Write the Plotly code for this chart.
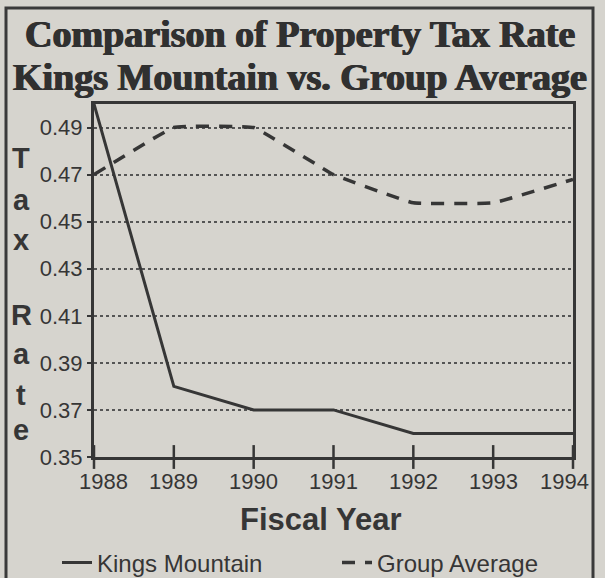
import plotly.graph_objects as go

years = [1988, 1989, 1990, 1991, 1992, 1993, 1994]
year_labels = ["1988", "1989", "1990", "1991", "1992", "1993", "1994"]
kings_mountain = [0.50, 0.38, 0.37, 0.37, 0.36, 0.36, 0.36]
group_average = [0.47, 0.49, 0.49, 0.47, 0.458, 0.458, 0.468]
y_ticks = [0.35, 0.37, 0.39, 0.41, 0.43, 0.45, 0.47, 0.49]
title_lines = ["Comparison of Property Tax Rate", "Kings Mountain vs. Group Average"]
y_title_letters = ["T", "a", "x", "R", "a", "t", "e"]
y_title_pos = [158, 200, 240, 315, 354, 395, 430]

BG = "#d6d4ce"
INK = "#363636"

W, H = 605, 578
L, R, T, B = 94, 32, 104, 121
PW, PH = W - L - R, H - T - B

def px_x(x):
    return (x - L) / PW

def px_y(y):
    return (H - B - y) / PH

fig = go.Figure()
fig.add_trace(go.Scatter(x=years, y=kings_mountain, mode="lines", name="Kings Mountain",
                         line=dict(color=INK, width=3), cliponaxis=False))
fig.add_trace(go.Scatter(x=years, y=group_average, mode="lines", name="Group Average",
                         line=dict(color=INK, width=3.5, dash="13px,10px", shape="spline", smoothing=0.25),
                         cliponaxis=False))
# crossing x-axis tick marks
fig.add_trace(go.Scatter(x=years, y=[0.35] * len(years), mode="markers", showlegend=False,
                         marker=dict(symbol="line-ns", size=17, line=dict(color=INK, width=2.5)),
                         cliponaxis=False, hoverinfo="skip"))

annotations = []
for i, line in enumerate(title_lines):
    annotations.append(dict(text=line, x=px_x(300), y=px_y([34, 77][i]), xref="paper", yref="paper",
                            xanchor="center", yanchor="middle", showarrow=False,
                            font=dict(family="Liberation Serif", size=38, color="#303030", weight="bold",
                                      shadow="0.7px 0 0 #303030, -0.7px 0 0 #303030")))
for ch, yy in zip(y_title_letters, y_title_pos):
    annotations.append(dict(text=ch, x=px_x(21), y=px_y(yy), xref="paper", yref="paper",
                            xanchor="center", yanchor="middle", showarrow=False,
                            font=dict(family="Liberation Sans", size=29, color=INK, weight="bold")))
annotations.append(dict(text="Fiscal Year", x=px_x(320), y=px_y(519), xref="paper", yref="paper",
                        xanchor="center", yanchor="middle", showarrow=False,
                        font=dict(family="Liberation Sans", size=31, color=INK, weight="bold")))
# x tick labels (end labels nudged inward as in the original)
for i, (yr, lab) in enumerate(zip(years, year_labels)):
    shift = 9 if i == 0 else (-9 if i == len(years) - 1 else 0)
    annotations.append(dict(text=lab, x=yr, xref="x", y=0, yref="paper", xanchor="center",
                            yanchor="top", yshift=-10, xshift=shift, showarrow=False,
                            font=dict(family="Liberation Sans", size=22, color=INK)))

fig.update_layout(
    width=W, height=H,
    margin=dict(l=L, r=R, t=T, b=B, autoexpand=False),
    paper_bgcolor=BG, plot_bgcolor=BG,
    font=dict(family="Liberation Sans", color=INK),
    annotations=annotations,
    showlegend=True,
    legend=dict(orientation="h", x=px_x(57), y=px_y(563), xanchor="left", yanchor="middle",
                font=dict(size=24, color=INK), bgcolor="rgba(0,0,0,0)",
                entrywidth=235, entrywidthmode="pixels", itemwidth=30),
    shapes=[dict(type="rect", xref="paper", yref="paper",
                 x0=px_x(6), x1=px_x(593), y0=px_y(8), y1=px_y(600),
                 line=dict(color="#3a3a3a", width=3), layer="below")],
)
fig.update_xaxes(range=[1988, 1994], tickvals=years, showticklabels=False,
                 automargin=False,
                 showgrid=False, zeroline=False, showline=True, mirror=True,
                 linecolor=INK, linewidth=3, ticks="")
fig.update_yaxes(range=[0.35, 0.50], tickvals=y_ticks, tickformat=".2f", automargin=False,
                 showgrid=True, gridcolor="#555555", gridwidth=1.5, griddash="dot",
                 zeroline=False, showline=True, mirror=True, linecolor=INK, linewidth=3,
                 ticks="outside", ticklen=4, tickcolor=INK, tickwidth=2,
                 tickfont=dict(size=22, color=INK))

fig.write_html("out.html", config={"displayModeBar": False},
               post_script="document.body.style.margin='0';document.body.style.overflow='hidden';"
                           "document.body.style.background='" + BG + "';")
